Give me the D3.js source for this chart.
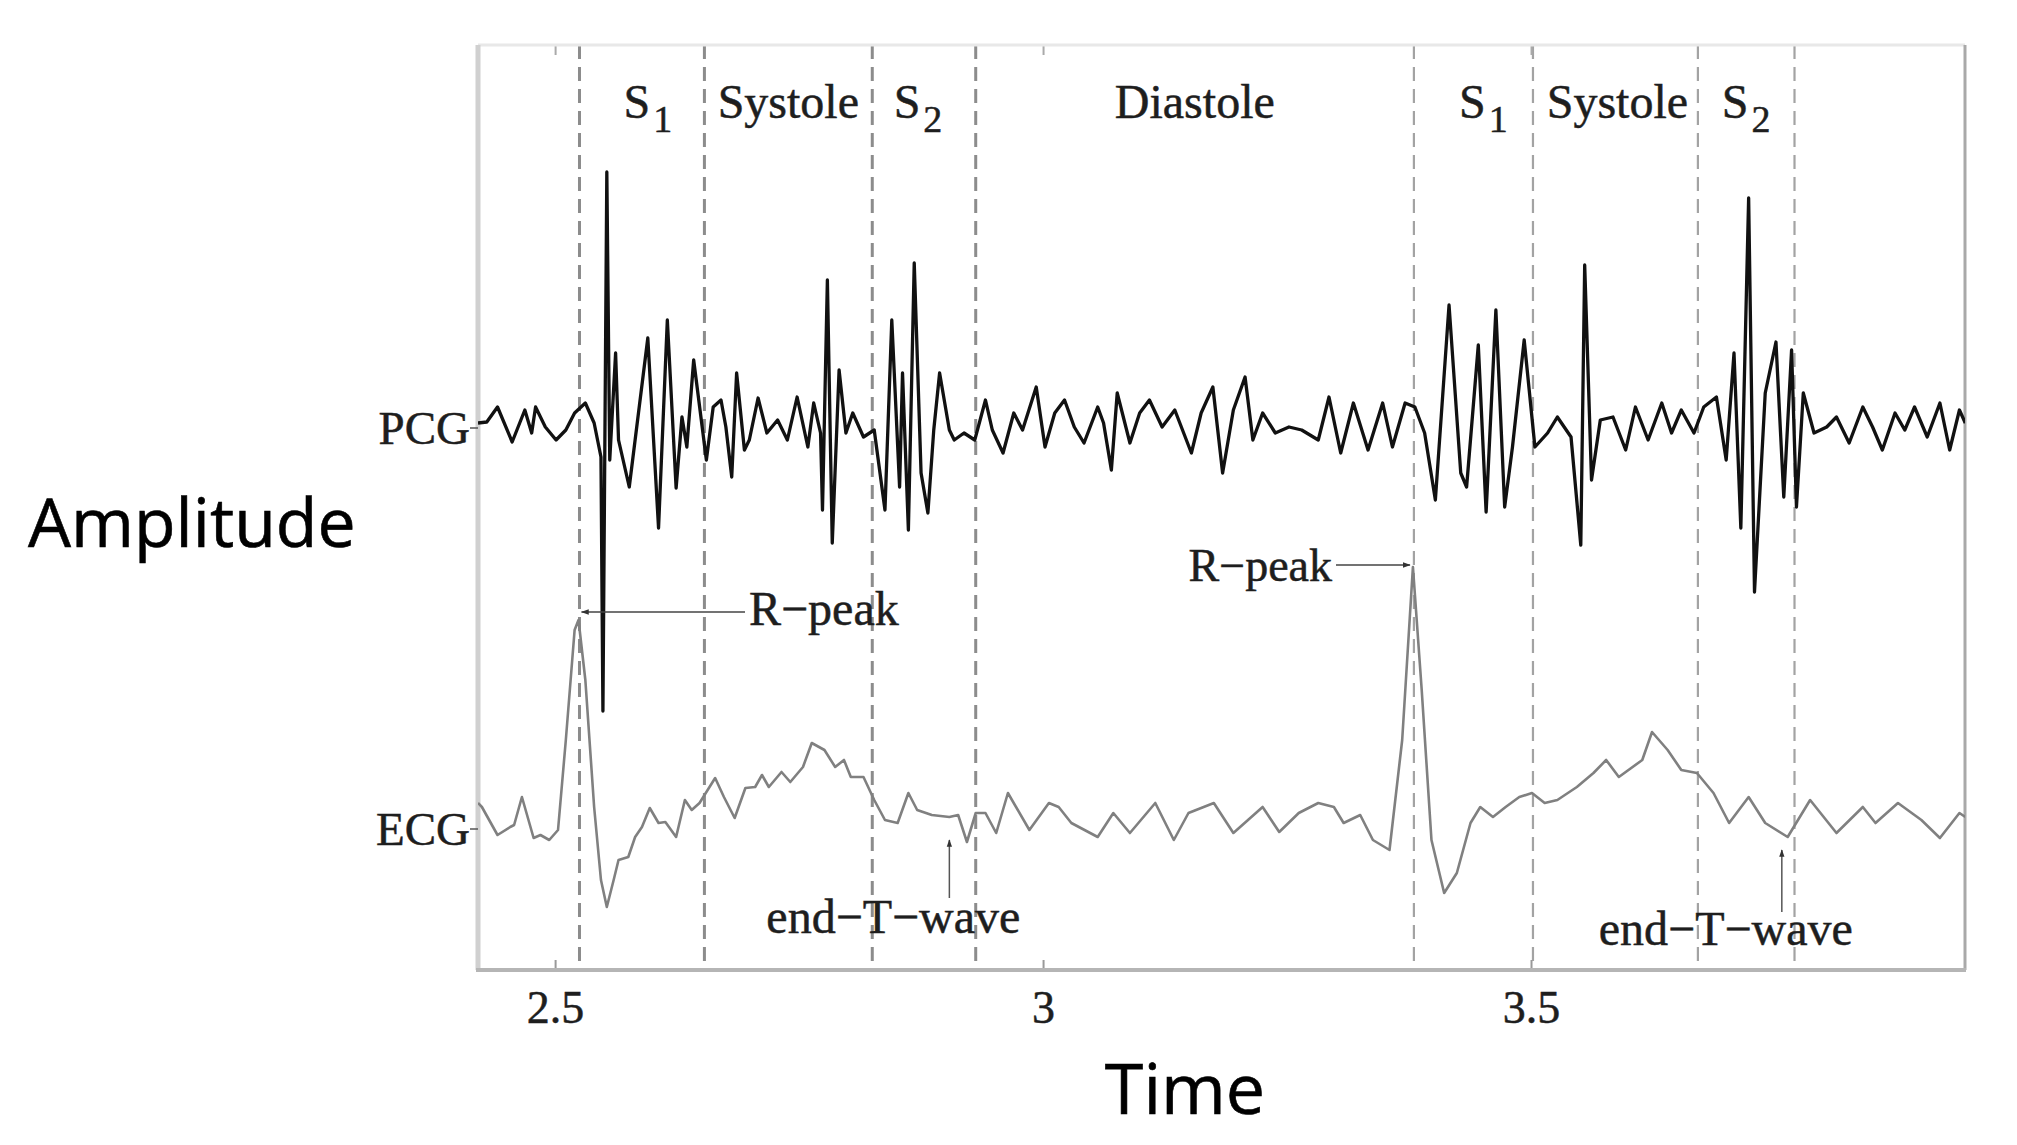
<!DOCTYPE html>
<html><head><meta charset="utf-8">
<script src="https://cdn.jsdelivr.net/npm/d3@7"></script>
<style>body{margin:0;background:#fff}svg{display:block}</style>
</head><body>
<svg id="chart" width="2017" height="1145"></svg>
<script>
// ---------- data ----------
const xTicks = [2.5, 3, 3.5];
const xTickLabels = ["2.5", "3", "3.5"];
const phaseBounds = [2.525, 2.653, 2.825, 2.931, 3.380, 3.502, 3.671, 3.770];
const phaseNames = ["S", "Systole", "S", "Diastole", "S", "Systole", "S"];
const phaseSubs = ["1", "", "2", "", "1", "", "2"];
const rPeakTimes = [2.524, 3.379];
const endTTimes = [2.904, 3.757];
const signalNames = ["PCG", "ECG"];

const pcgTime = [2.421,2.430,2.441,2.456,2.469,2.476,2.480,2.490,2.501,2.511,2.520,2.531,2.540,2.547,2.549,2.553,2.556,2.562,2.565,2.576,2.595,2.606,2.615,2.624,2.630,2.635,2.642,2.655,2.662,2.670,2.675,2.681,2.686,2.694,2.699,2.708,2.717,2.728,2.738,2.748,2.759,2.765,2.772,2.774,2.779,2.784,2.791,2.798,2.805,2.816,2.827,2.838,2.845,2.853,2.856,2.862,2.868,2.875,2.882,2.888,2.894,2.904,2.909,2.919,2.930,2.941,2.948,2.959,2.970,
2.979,2.993,3.002,3.012,3.022,3.032,3.042,3.056,3.062,3.070,3.076,3.089,3.099,3.109,3.122,3.135,3.152,3.162,3.174,3.184,3.195,3.207,3.215,3.225,3.238,3.252,3.265,3.282,3.293,3.305,3.318,3.333,3.348,3.358,3.371,3.381,3.391,3.402,3.416,3.428,3.434,3.446,3.454,3.464,3.473,3.481,3.493,3.504,3.517,3.527,3.541,3.551,3.555,3.562,3.571,3.584,3.597,3.607,3.620,3.634,3.644,3.654,3.667,3.677,3.690,3.700,3.708,3.715,3.723,3.729,3.740,3.751,3.759,3.767,3.772,3.779,3.790,3.803,3.813,3.826,3.840,3.850,3.860,3.873,3.883,3.893,3.906,3.919,3.929,3.939,3.945];
const pcgAmp = [0.05,0.06,0.21,-0.14,0.18,-0.05,0.21,0.01,-0.12,-0.02,0.15,0.25,0.05,-0.29,-2.83,2.56,-0.32,0.75,-0.12,-0.59,0.90,-1.00,1.08,-0.60,0.11,-0.19,0.68,-0.32,0.21,0.28,0.01,-0.49,0.55,-0.22,-0.12,0.30,-0.05,0.08,-0.12,0.31,-0.19,0.25,-0.05,-0.82,1.48,-1.15,0.58,-0.05,0.15,-0.09,-0.02,-0.82,1.08,-0.59,0.55,-1.02,1.65,-0.45,-0.85,-0.02,0.55,-0.02,-0.12,-0.05,-0.12,0.28,-0.02,-0.25,0.15,
-0.02,0.41,-0.19,0.15,0.28,0.01,-0.15,0.21,0.05,-0.42,0.35,-0.15,0.15,0.28,0.01,0.18,-0.25,0.15,0.41,-0.45,0.18,0.51,-0.12,0.15,-0.05,0.01,-0.02,-0.12,0.31,-0.25,0.25,-0.22,0.25,-0.19,0.25,0.21,-0.05,-0.72,1.23,-0.45,-0.59,0.83,-0.84,1.18,-0.79,-0.19,0.88,-0.19,-0.05,0.11,-0.09,-1.17,1.63,-0.52,0.08,0.11,-0.22,0.21,-0.12,0.25,-0.05,0.18,-0.05,0.21,0.31,-0.32,0.75,-1.00,2.30,-1.64,0.35,0.86,-0.69,0.78,-0.79,0.35,-0.05,0.01,0.11,-0.15,0.21,0.01,-0.22,0.15,-0.02,0.21,-0.09,0.25,-0.22,0.18,0.05];

const ecgTime = [2.421,2.425,2.441,2.454,2.458,2.466,2.478,2.485,2.494,2.503,2.511,2.520,2.524,2.531,2.540,2.547,2.553,2.560,2.565,2.575,2.582,2.589,2.597,2.606,2.613,2.624,2.633,2.640,2.648,2.664,2.673,2.684,2.695,2.705,2.712,2.719,2.732,2.741,2.754,2.763,2.776,2.787,2.796,2.803,2.816,2.827,2.838,2.851,2.862,2.871,2.886,2.904,2.913,2.922,2.931,2.941,2.952,2.964,
2.986,3.006,3.016,3.029,3.056,3.072,3.089,3.115,3.134,3.149,3.175,3.195,3.225,3.242,3.262,3.282,3.298,3.308,3.325,3.338,3.355,3.368,3.379,3.388,3.398,3.411,3.424,3.438,3.448,3.461,3.474,3.488,3.501,3.514,3.527,3.547,3.564,3.577,3.590,3.614,3.624,3.640,3.654,3.670,3.687,3.703,3.723,3.740,3.763,3.786,3.813,3.840,3.853,3.876,3.900,3.919,3.939,3.945];
const ecgAmp = [0.20,0.16,-0.12,-0.04,-0.02,0.26,-0.15,-0.12,-0.17,-0.07,0.83,1.93,2.03,1.43,0.16,-0.57,-0.84,-0.57,-0.37,-0.34,-0.14,-0.04,0.15,0.00,0.01,-0.14,0.23,0.13,0.20,0.45,0.26,0.05,0.35,0.36,0.48,0.36,0.51,0.41,0.56,0.80,0.73,0.56,0.63,0.46,0.46,0.23,0.03,0.00,0.30,0.13,0.08,0.06,0.08,-0.19,0.10,0.10,-0.10,0.30,
-0.07,0.20,0.16,0.00,-0.14,0.10,-0.10,0.20,-0.17,0.10,0.20,-0.10,0.16,-0.09,0.10,0.20,0.16,0.00,0.08,-0.17,-0.27,0.83,2.56,1.33,-0.17,-0.70,-0.50,0.00,0.16,0.06,0.16,0.26,0.30,0.20,0.23,0.36,0.50,0.63,0.46,0.63,0.91,0.73,0.53,0.50,0.30,0.00,0.26,0.00,-0.14,0.23,-0.10,0.16,0.00,0.20,0.03,-0.15,0.10,0.06];

// ---------- layout ----------
const L = 478, R = 1965, T = 45, B = 970;
const pcgOffset = 5.42, ecgOffset = 1.47;
const serif = "'Liberation Serif','Times New Roman',serif";
const sans = "'Open Sans','Noto Sans',sans-serif";
const ink = "#1e1e1e";

const svg = d3.select("#chart");
const x = d3.scaleLinear().domain([2.421, 3.9447]).range([L, R]);
const y = d3.scaleLinear().domain([0, 9.25]).range([B, T]);

const defs = svg.append("defs");
defs.append("clipPath").attr("id","clip").append("rect")
  .attr("x", L).attr("y", T).attr("width", R-L).attr("height", B-T);
defs.append("marker").attr("id","arr").attr("viewBox","0 0 10 10")
  .attr("refX",9).attr("refY",5).attr("markerWidth",5).attr("markerHeight",5)
  .attr("orient","auto").append("path").attr("d","M0,1.5L10,5L0,8.5z").attr("fill","#333");

function serifText(sel, size) {
  return sel.attr("font-family", serif).attr("font-size", size).attr("fill", ink)
    .attr("stroke", ink).attr("stroke-width", 0.5);
}

// phase boundaries
svg.append("g").selectAll("line").data(phaseBounds).join("line")
  .attr("x1", d=>x(d)).attr("x2", d=>x(d)).attr("y1", T).attr("y2", B)
  .attr("stroke", (d,i)=> i<4 ? "#8c8c8c" : "#a3a3a3")
  .attr("stroke-width", (d,i)=> i<4 ? 3 : 2.2)
  .attr("stroke-dasharray", "14,8");

// axes
const gx = svg.append("g").attr("transform", `translate(0,${B})`)
  .call(d3.axisBottom(x).tickValues(xTicks).tickSize(-10).tickPadding(20)
    .tickFormat((d,i)=>xTickLabels[i]));
gx.select(".domain").remove();
gx.selectAll(".tick line").attr("stroke","#999").attr("stroke-width",2);
serifText(gx.selectAll(".tick text"), 46);

const gt = svg.append("g").attr("transform", `translate(0,${T})`)
  .call(d3.axisTop(x).tickValues(xTicks).tickSize(-10).tickFormat(""));
gt.select(".domain").remove();
gt.selectAll(".tick line").attr("stroke","#aaa").attr("stroke-width",2);

// box
svg.append("line").attr("x1",L).attr("x2",R).attr("y1",T).attr("y2",T).attr("stroke","#e8e8e8").attr("stroke-width",3);
svg.append("line").attr("x1",L).attr("x2",L).attr("y1",T).attr("y2",B).attr("stroke","#d0d0d0").attr("stroke-width",5);
svg.append("line").attr("x1",R).attr("x2",R).attr("y1",T).attr("y2",B).attr("stroke","#a9a9a9").attr("stroke-width",3);
svg.append("line").attr("x1",L-2).attr("x2",R+1).attr("y1",B).attr("y2",B).attr("stroke","#b5b5b5").attr("stroke-width",4);

// signals
const pcgData = pcgTime.map((t,i)=>[t, pcgAmp[i]]);
const ecgData = ecgTime.map((t,i)=>[t, ecgAmp[i]]);
const gPlot = svg.append("g").attr("clip-path","url(#clip)");
gPlot.append("path").datum(ecgData)
  .attr("d", d3.line().x(d=>x(d[0])).y(d=>y(d[1]+ecgOffset)))
  .attr("fill","none").attr("stroke","#808080").attr("stroke-width",2.6).attr("stroke-linejoin","round");
gPlot.append("path").datum(pcgData)
  .attr("d", d3.line().x(d=>x(d[0])).y(d=>y(d[1]+pcgOffset)))
  .attr("fill","none").attr("stroke","#111").attr("stroke-width",3.3).attr("stroke-linejoin","round");

// signal labels
const offsets = [pcgOffset, ecgOffset - 0.06];
signalNames.forEach((n,i)=>{
  serifText(svg.append("text"), 47).attr("x", L-8).attr("y", y(offsets[i])).attr("dy","0.35em")
    .attr("text-anchor","end").text(n);
  svg.append("line").attr("x1",L-8).attr("x2",L).attr("y1",y(offsets[i])).attr("y2",y(offsets[i]))
    .attr("stroke","#555").attr("stroke-width",1.5);
});

// phase labels
const phaseNudge = [6, 0, -6, 0, 10, 2, 0];
phaseNames.forEach((n,i)=>{
  const cx = (x(phaseBounds[i]) + x(phaseBounds[i+1]))/2 + phaseNudge[i];
  const tx = serifText(svg.append("text"), 48).attr("x", cx).attr("y", 118)
    .attr("text-anchor","middle").text(n);
  if (phaseSubs[i]) tx.append("tspan").attr("dx",3).attr("dy",14).attr("font-size",38).text(phaseSubs[i]);
});

// R-peak annotations
const rPeakAmp = rPeakTimes.map(t=>{ const i = ecgTime.indexOf(t); return ecgAmp[i]; });
{
  const py = y(rPeakAmp[0] + ecgOffset) - 8;
  svg.append("line").attr("x1", 745).attr("x2", x(rPeakTimes[0]) + 3).attr("y1", py).attr("y2", py)
    .attr("stroke","#444").attr("stroke-width",1.6).attr("marker-end","url(#arr)");
  serifText(svg.append("text"), 48).attr("x", 749).attr("y", py + 13).text("R\u2212peak");
}
{
  const py = y(rPeakAmp[1] + ecgOffset) - 2;
  svg.append("line").attr("x1", 1336).attr("x2", x(rPeakTimes[1]) - 3).attr("y1", py).attr("y2", py)
    .attr("stroke","#444").attr("stroke-width",1.6).attr("marker-end","url(#arr)");
  serifText(svg.append("text"), 46).attr("x", 1332).attr("y", py + 16).attr("text-anchor","end").text("R\u2212peak");
}

// end-T-wave annotations
const endTY = [[898, 840, 933], [912, 850, 945]];
endTTimes.forEach((t,i)=>{
  const ax = x(t);
  svg.append("line").attr("x1", ax).attr("x2", ax).attr("y1", endTY[i][0]).attr("y2", endTY[i][1])
    .attr("stroke","#555").attr("stroke-width",1.5).attr("marker-end","url(#arr)");
  serifText(svg.append("text"), 48).attr("x", ax - 56).attr("y", endTY[i][2]).attr("text-anchor","middle")
    .text("end\u2212T\u2212wave");
});

// axis titles
svg.append("text").attr("x", 28).attr("y", 547).attr("font-family",sans).attr("font-size",68)
  .attr("fill","#000").attr("stroke","#000").attr("stroke-width",0.6).text("Amplitude");
svg.append("text").attr("x", 1185).attr("y", 1114).attr("text-anchor","middle").attr("font-family",sans)
  .attr("font-size",70).attr("fill","#000").attr("stroke","#000").attr("stroke-width",0.6).text("Time");
</script>
</body></html>
